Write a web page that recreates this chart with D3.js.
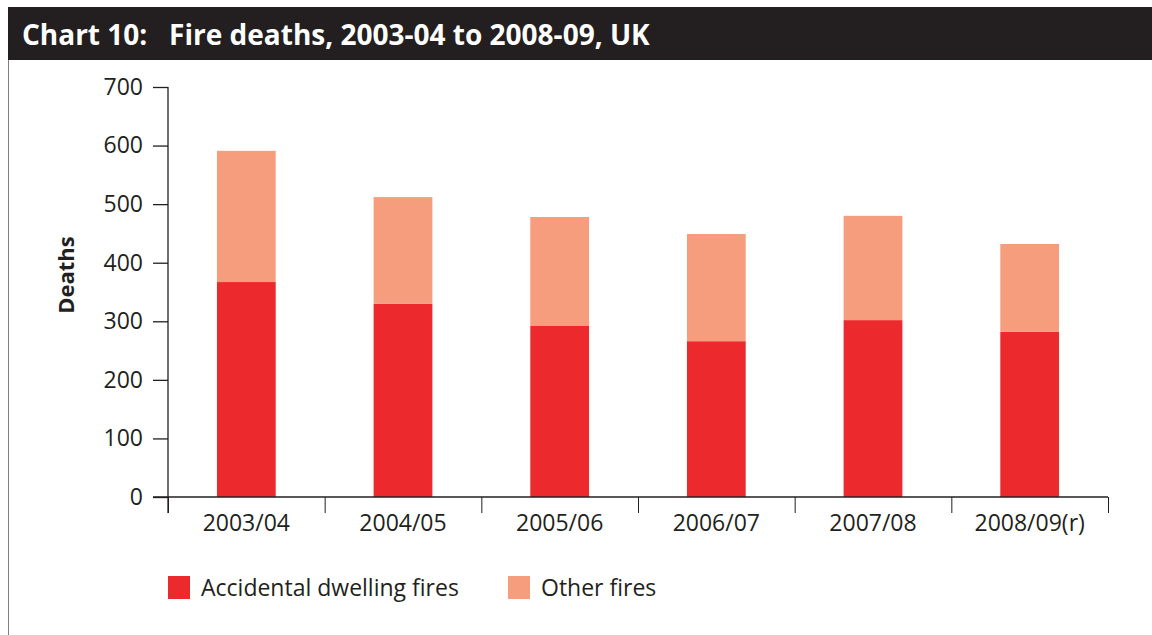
<!DOCTYPE html>
<html>
<head>
<meta charset="utf-8">
<script src="https://cdn.jsdelivr.net/npm/d3@7"></script>
<style>
  body { margin: 0; background: #fff; }
  svg { display: block; }
</style>
</head>
<body>
<svg id="chart"></svg>
<script>
// values
let years = ["2003/04","2004/05","2005/06","2006/07","2007/08","2008/09(r)"];
let accidental = [367, 330, 292, 266, 302, 282];
let other = [224, 182, 186, 183, 178, 150];
let yTicks = [0, 100, 200, 300, 400, 500, 600, 700];
let seriesNames = ["Accidental dwelling fires", "Other fires"];

let width = 1152, height = 635;
let margin = {top: 87, right: 44, bottom: 138, left: 168};
let colors = ["#ec2a2e", "#f59d7d"];
let font = "'Open Sans', 'Noto Sans', sans-serif";

let svg = d3.select('#chart').attr('width', width).attr('height', height);

// title bar
svg.append('rect')
    .attr('x', 8).attr('y', 7)
    .attr('width', width - 8).attr('height', 53)
    .attr('fill', '#231f20');
svg.append('text')
    .attr('x', 22).attr('y', 45)
    .attr('fill', '#fff')
    .attr('font-family', font)
    .attr('font-weight', 'bold')
    .attr('font-size', 28)
    .attr('xml:space', 'preserve')
    .text('Chart 10:   Fire deaths, 2003-04 to 2008-09, UK');

// left frame line
svg.append('line')
    .attr('x1', 8.5).attr('x2', 8.5)
    .attr('y1', 60).attr('y2', height)
    .attr('stroke', '#808080').attr('stroke-width', 1);

let data = years.map((y, i) => ({year: y, accidental: accidental[i], other: other[i]}));
let stack = d3.stack().keys(['accidental', 'other'])(data);

let x = d3.scaleBand()
    .domain(years)
    .range([margin.left, width - margin.right])
    .padding(0);

let y = d3.scaleLinear()
    .domain([0, 700])
    .range([height - margin.bottom, margin.top]);

let barW = x.bandwidth() * 0.375;

svg.append('g')
    .selectAll('g')
    .data(stack)
    .join('g')
    .attr('fill', (d, i) => colors[i])
    .selectAll('rect')
    .data(d => d)
    .join('rect')
    .attr('x', d => x(d.data.year) + (x.bandwidth() - barW) / 2)
    .attr('y', d => y(d[1]))
    .attr('width', barW)
    .attr('height', d => y(d[0]) - y(d[1]));

// y axis
let yAxis = svg.append('g')
    .attr('transform', `translate(${margin.left},0)`)
    .call(d3.axisLeft(y).tickValues(yTicks).tickSize(15).tickPadding(10).tickSizeOuter(0));
yAxis.select('.domain').attr('d', `M0,${y(700)}V${y(0) + 16}`);

// x axis
let xAxis = svg.append('g')
    .attr('transform', `translate(0,${y(0)})`)
    .call(d3.axisBottom(x).tickSize(0).tickPadding(18));
xAxis.select('.domain').attr('d', `M${margin.left - 15},0H${width - margin.right}`);
xAxis.selectAll('.sep')
    .data(years.map(d => x(d)).concat([width - margin.right]))
    .join('line')
    .attr('class', 'sep')
    .attr('x1', d => d + 0.5).attr('x2', d => d + 0.5)
    .attr('y1', 0).attr('y2', 16)
    .attr('stroke', '#231f20');

svg.selectAll('.tick text')
    .attr('font-family', font)
    .attr('font-size', 23)
    .attr('fill', '#231f20');
svg.selectAll('.tick line, .domain')
    .attr('stroke', '#231f20')
    .attr('stroke-width', 1.3);

// y label
svg.append('text')
    .attr('transform', `translate(74,275) rotate(-90)`)
    .attr('text-anchor', 'middle')
    .attr('font-family', font)
    .attr('font-weight', 'bold')
    .attr('font-size', 22)
    .attr('fill', '#231f20')
    .text('Deaths');

// legend
let legend = svg.append('g')
    .selectAll('g')
    .data(seriesNames)
    .join('g')
    .attr('transform', (d, i) => `translate(${i === 0 ? 168 : 508},576)`);
legend.append('rect')
    .attr('width', 22).attr('height', 23)
    .attr('fill', (d, i) => colors[i]);
legend.append('text')
    .attr('x', 33).attr('y', 11.5)
    .attr('dy', '0.35em')
    .attr('font-family', font)
    .attr('font-size', 23)
    .attr('fill', '#231f20')
    .text(d => d);
</script>
</body>
</html>
